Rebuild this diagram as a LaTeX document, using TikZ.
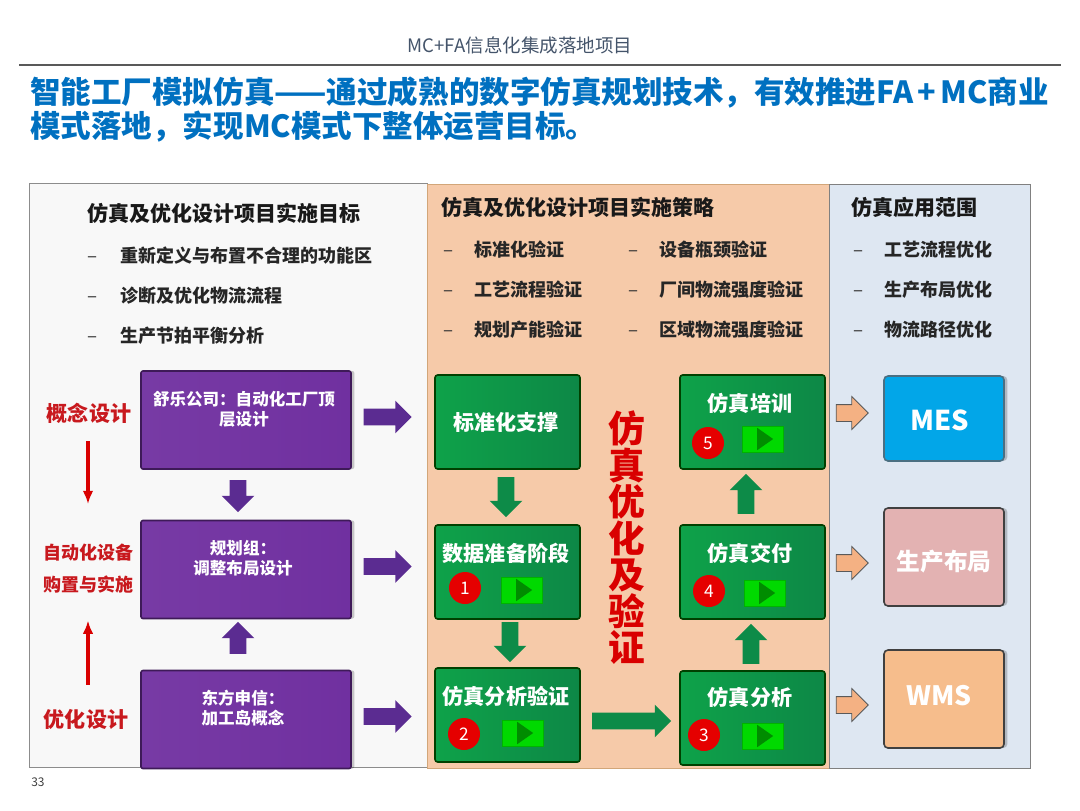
\documentclass[tikz,border=0pt]{standalone}
\usepackage{fontspec}
\setmainfont{Noto Sans CJK SC}
\usetikzlibrary{shapes.arrows,shapes.geometric,shadows,arrows.meta}
\definecolor{headgray}{HTML}{44546A}
\definecolor{titleblue}{HTML}{0070C0}
\definecolor{labred}{HTML}{C8191E}
\definecolor{purp}{HTML}{7030A0}
\definecolor{purparr}{HTML}{5B2C91}
\definecolor{grn}{HTML}{0F9A50}
\definecolor{panl}{HTML}{F8F8F8}
\definecolor{panm}{HTML}{F6CAA9}
\definecolor{panr}{HTML}{DEE7F2}
\definecolor{mesc}{HTML}{02A6E8}
\definecolor{layc}{HTML}{E3B2B2}
\definecolor{wmsc}{HTML}{F6BD8C}
\definecolor{oarc}{HTML}{F4B183}
\begin{document}
\begin{tikzpicture}[x=0.75pt,y=-0.75pt,
  fsz/.style={font=\fontsize{#1}{#1}\selectfont},
  head/.style={inner sep=0pt,anchor=west,font=\fontsize{15.75}{16}\selectfont\bfseries,text=black!90},
  item/.style={inner sep=0pt,anchor=west,font=\fontsize{13.5}{14}\selectfont\bfseries,text=black!85},
  dsh/.style={inner sep=0pt,fsz=14,text=black!80,yshift=-2.5pt},
  shad/.style={drop shadow={shadow xshift=2.5pt,shadow yshift=0pt,opacity=.2,fill=black}},
  pbox/.style={draw=purp!55!black,line width=1.2pt,rounded corners=1.5pt,left color=purp!95!white,right color=purp,
    minimum width=157.5pt,minimum height=73.5pt,inner sep=0pt,shad},
  gbox/.style={draw=green!25!black,line width=1.2pt,rounded corners=2pt,left color=grn!92!green,right color=grn!88!black,
    minimum width=108.75pt,minimum height=70.5pt,inner sep=0pt},
  abox/.style={line width=1.2pt,rounded corners=3pt,minimum width=90pt,inner sep=0pt,shad},
  alab/.style={inner sep=0pt,text=white,font=\fontsize{#1}{#1}\selectfont\bfseries},
  plab/.style={inner sep=0pt,align=center,text=white,font=\fontsize{12.4}{15}\selectfont\bfseries},
  glab/.style={inner sep=0pt,text=white,font=\fontsize{15.8}{16}\selectfont\bfseries},
  rlab/.style={inner sep=0pt,text=labred,font=\fontsize{#1}{#1}\selectfont\bfseries},
  play/.style={fill=green!85!black,draw=green!70!black,line width=.3pt,minimum width=30.75pt,minimum height=19.5pt,inner sep=0pt},
  tri/.style={isosceles triangle,isosceles triangle apex angle=70,fill=green!55!black,minimum height=12pt,inner sep=0pt,minimum width=12.75pt},
  badge/.style={circle,fill=red!90!black,minimum size=24pt,inner sep=0pt,text=white,font=\fontsize{13}{13}\selectfont},
  barr/.style={single arrow,single arrow head extend=6pt,minimum width=24pt,inner xsep=0pt,inner ysep=6pt,draw=none},
  parr/.style={barr,fill=purparr,minimum height=36pt},
  garr/.style={barr,fill=grn!90!black,minimum height=30pt},
  oarr/.style={barr,fill=oarc,draw=black!65,line width=.6pt,minimum height=24pt},
  redarr/.style={-{Latex[length=10pt,width=8pt]},draw=red!85!black,line width=2.6pt}]
\useasboundingbox (0,0) rectangle (1080,810);
% header
\node[inner sep=0pt,text=headgray,fsz=13.9] (hdr) at (520,45) {MC+FA信息化集成落地项目};
\coordinate (rl) at (19,65);
\coordinate (rr) at (1061,65);
\draw[black!65,line width=.8pt] (rl) -- (rr);
\node[inner sep=0pt,anchor=west,text=titleblue,font=\fontsize{22.9}{25.5}\selectfont\bfseries,align=left] (ttl) at (30,110)
  {智能工厂模拟仿真——通过成熟的数字仿真规划技术，有效推进FA\kern3pt+\kern3pt MC商业\\模式落地，实现MC模式下整体运营目标。};
\node[inner sep=0pt,text=black!75,fsz=9] (pg) at (38,782) {33};
% panels
\fill[panl] (29,183) rectangle (427,767);
\draw[black!45,line width=.6pt] (29,183) rectangle (427,767);
\fill[panm] (427,184) rectangle (829,768);
\draw[brown!70,line width=.6pt] (427,184) rectangle (829,768);
\fill[panr] (829,184) rectangle (1030,768);
\draw[black!50,line width=.6pt] (829,184) rectangle (1030,768);
% goals
\node[head] (hl) at (87,213) {仿真及优化设计项目实施目标};
\foreach \i/\y/\t in {1/256/重新定义与布置不合理的功能区,2/296/诊断及优化物流流程,3/336/生产节拍平衡分析}{
  \node[dsh] (ld\i) at (93,\y) {–};
  \node[item] (li\i) at (120,\y) {\t};
}
\node[head] (hm) at (441,207) {仿真及优化设计项目实施策略};
\foreach \i/\y/\t/\u in {1/250/标准化验证/设备瓶颈验证,2/290/工艺流程验证/厂间物流强度验证,3/330/规划产能验证/区域物流强度验证}{
  \node[dsh] (md\i) at (448,\y) {–};
  \node[item] (mi\i) at (474,\y) {\t};
  \node[dsh] (nd\i) at (633,\y) {–};
  \node[item] (ni\i) at (659,\y) {\u};
}
\node[head] (hr) at (851,207) {仿真应用范围};
\foreach \i/\y/\t in {1/250/工艺流程优化,2/290/生产布局优化,3/330/物流路径优化}{
  \node[dsh] (rd\i) at (858,\y) {–};
  \node[item] (ri\i) at (884,\y) {\t};
}
% left column
\node[rlab=15.8] (cpt) at (89,413) {概念设计};
\node[rlab=13.5,align=center,font=\fontsize{13.5}{24}\selectfont\bfseries] (aut) at (88,569) {自动化设备\\购置与实施};
\node[rlab=15.8] (opt) at (86,719) {优化设计};
\draw[redarr,shorten <=13.5pt,shorten >=30pt] (cpt.south -| aut.north) -- (aut.north);
\draw[redarr,shorten <=18pt,shorten >=20pt] (aut.south |- opt.north) -- (aut.south);
\foreach \i/\y in {1/420,2/569.5,3/719.5}{
  \node[pbox] (p\i) at (246,\y) {};
  \node[parr] (pa\i) at (383.5,\y-3) {};
}
\node[plab] (pl1) at (244,409) {舒乐公司：自动化工厂顶\\层设计};
\node[plab] (pl2) at (243,558) {规划组：\\调整布局设计};
\node[plab] (pl3) at (243,708) {东方申信：\\加工岛概念};
\node[parr,rotate=-90,minimum height=24pt] (pd) at (238,492) {};
\node[parr,rotate=90,minimum height=24pt] (pu) at (238,642) {};
% strategy column
\foreach \n/\x/\y in {sup/507.5/422,dat/507.5/572,sim/507.5/715,tra/752.5/422,del/752.5/572,ana/752.5/718}{
  \node[gbox] (\n) at (\x,\y) {};
}
\node[glab] (lsup) at (506,422) {标准化支撑};
\node[glab] (ldat) at (506,553) {数据准备阶段};
\node[glab] (lsim) at (506,696) {仿真分析验证};
\node[glab] (ltra) at (750,403) {仿真培训};
\node[glab] (ldel) at (750,553) {仿真交付};
\node[glab] (lana) at (750,697) {仿真分析};
\foreach \i/\x/\y/\bx/\by in {1/465/588/522/590,2/464/734/523/733,3/704/735/763/736,4/709/591/765/593,5/708/443/763/439}{
  \node[badge] (b\i) at (\x,\y) {\i};
  \node[play] (pb\i) at (\bx,\by) {};
  \node[tri] (pt\i) at (\bx,\by) {};
}
\node[garr,rotate=-90] (gd1) at (506,493) {};
\node[garr,rotate=-90] (gd2) at (510,638) {};
\node[garr,minimum height=59.25pt] (gr) at (627.5,721) {};
\node[garr,rotate=90] (gu1) at (746,498) {};
\node[garr,rotate=90] (gu2) at (751,648) {};
\node[inner sep=0pt,align=center,text=red!85!black,font=\fontsize{27.5}{27.4}\selectfont\bfseries] (vt) at (627,538)
  {仿\\真\\优\\化\\及\\验\\证};
% application column
\foreach \i/\y in {1/413,2/563,3/705}{
  \node[oarr] (oa\i) at (848,\y) {};
}
\node[abox,draw=cyan!45!black,fill=mesc,minimum height=63.75pt] (mes) at (944,418.5) {};
\node[abox,draw=black!75,fill=layc,minimum height=73.5pt] (lay) at (944,557) {};
\node[abox,draw=black!75,fill=wmsc,minimum height=73.5pt] (wms) at (944,699) {};
\node[alab=20.5] (lmes) at (940,420) {MES};
\node[alab=17.8] (llay) at (944,562) {生产布局};
\node[alab=20] (lwms) at (939,696) {WMS};
\end{tikzpicture}
\end{document}
